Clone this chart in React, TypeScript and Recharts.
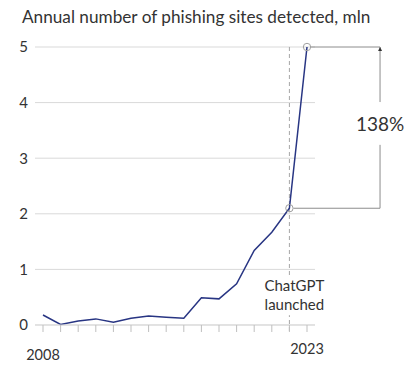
import React from 'react';
import { LineChart, Line, XAxis, YAxis, CartesianGrid, ReferenceLine, ReferenceDot } from 'recharts';

const years = [2008, 2009, 2010, 2011, 2012, 2013, 2014, 2015, 2016, 2017, 2018, 2019, 2020, 2021, 2022, 2023];
const sites = [0.18, 0.01, 0.07, 0.11, 0.05, 0.12, 0.16, 0.14, 0.12, 0.49, 0.47, 0.74, 1.34, 1.67, 2.1, 5.0];
const yTicks = [0, 1, 2, 3, 4, 5];
const labelYears = [2008, 2023];
const launchYear = 2022;
const launchLabel = ['ChatGPT', 'launched'];
const growthLabel = '138%';
const title = 'Annual number of phishing sites detected, mln';

const data = years.map((year, i) => ({ year, value: sites[i] }));

const FONT = 'Lato, "Open Sans", sans-serif';
const TEXT = '#333';
const GREY = '#8c8c8c';

// bracket sits right of the plot, in year units
const bracketX = 2027.15;
const circleGap = 0.23;
const startValue = sites[years.indexOf(launchYear)];
const endValue = sites[sites.length - 1];

const YearTick = (props: any) => {
  const { x, y, payload } = props;
  if (!labelYears.includes(payload.value)) return <g />;
  const dy = payload.value === 2023 ? 20 : 26;
  return (
    <text x={x} y={y + dy} textAnchor="middle" fill={TEXT} fontSize={14.5} fontFamily={FONT}>
      {payload.value}
    </text>
  );
};

const LaunchLabel = (props: any) => {
  const { cx, cy } = props;
  return (
    <g>
      <rect x={cx - 28} y={cy - 12} width={62} height={40} fill="#fff" />
      <text x={cx + 5} y={cy + 4} textAnchor="middle" fill={TEXT} fontSize={15} fontFamily={FONT}>{launchLabel[0]}</text>
      <text x={cx + 5} y={cy + 23} textAnchor="middle" fill={TEXT} fontSize={15} fontFamily={FONT}>{launchLabel[1]}</text>
    </g>
  );
};

const GrowthLabel = (props: any) => {
  const { cx, cy } = props;
  return (
    <text x={cx} y={cy} textAnchor="middle" dominantBaseline="central" fill={TEXT} fontSize={19} fontFamily={FONT}>
      {growthLabel}
    </text>
  );
};

const Arrow = (props: any) => {
  const { cx, cy } = props;
  return <path d={`M${cx},${cy} L${cx - 2},${cy + 4} L${cx + 2},${cy + 4} Z`} fill="#333" />;
};

export default function App() {
  return (
    <div style={{ position: 'absolute', left: 0, top: 0, width: 413, height: 369, background: '#fff' }}>
      <div style={{ position: 'absolute', left: 22, top: 6, fontFamily: FONT, fontSize: 17.2, color: TEXT, whiteSpace: 'nowrap' }}>
        {title}
      </div>
      <LineChart width={413} height={369} data={data} margin={{ top: 47, right: 98, bottom: 0, left: 0 }}>
        <CartesianGrid vertical={false} stroke="#d9d9d9" />
        <XAxis
          dataKey="year"
          type="number"
          domain={[2008, 2023]}
          ticks={years}
          interval={0}
          padding={{ left: 8, right: 8 }}
          height={44}
          tickSize={7}
          axisLine={{ stroke: '#d9d9d9' }}
          tickLine={{ stroke: '#bfbfbf' }}
          tick={<YearTick />}
        />
        <YAxis
          domain={[0, 5]}
          ticks={yTicks}
          width={35}
          axisLine={false}
          tickLine={false}
          tickSize={0}
          tickMargin={7}
          tick={{ fill: TEXT, fontSize: 15, fontFamily: FONT }}
        />
        <ReferenceLine
          segment={[{ x: launchYear, y: endValue }, { x: launchYear, y: -0.14 }]}
          stroke="#a6a6a6"
          strokeDasharray="4 3"
          ifOverflow="visible"
        />
        <ReferenceDot x={launchYear} y={0.68} r={0} shape={<LaunchLabel />} ifOverflow="visible" />
        <Line type="linear" dataKey="value" stroke="#283583" strokeWidth={1.5} dot={false} isAnimationActive={false} />
        <ReferenceDot x={launchYear} y={startValue} r={3.7} fill="none" stroke="#a0a0a0" ifOverflow="visible" />
        <ReferenceDot x={2023} y={endValue} r={3.7} fill="none" stroke="#a0a0a0" ifOverflow="visible" />
        <ReferenceLine segment={[{ x: 2023 + circleGap, y: endValue }, { x: bracketX, y: endValue }]} stroke={GREY} ifOverflow="visible" />
        <ReferenceLine segment={[{ x: launchYear + circleGap, y: startValue }, { x: bracketX, y: startValue }]} stroke={GREY} ifOverflow="visible" />
        <ReferenceLine segment={[{ x: bracketX, y: endValue }, { x: bracketX, y: 4.01 }]} stroke={GREY} ifOverflow="visible" />
        <ReferenceLine segment={[{ x: bracketX, y: 3.24 }, { x: bracketX, y: startValue }]} stroke={GREY} ifOverflow="visible" />
        <ReferenceDot x={bracketX} y={endValue} r={0} shape={<Arrow />} ifOverflow="visible" />
        <ReferenceDot x={bracketX} y={3.62} r={0} shape={<GrowthLabel />} ifOverflow="visible" />
      </LineChart>
    </div>
  );
}
